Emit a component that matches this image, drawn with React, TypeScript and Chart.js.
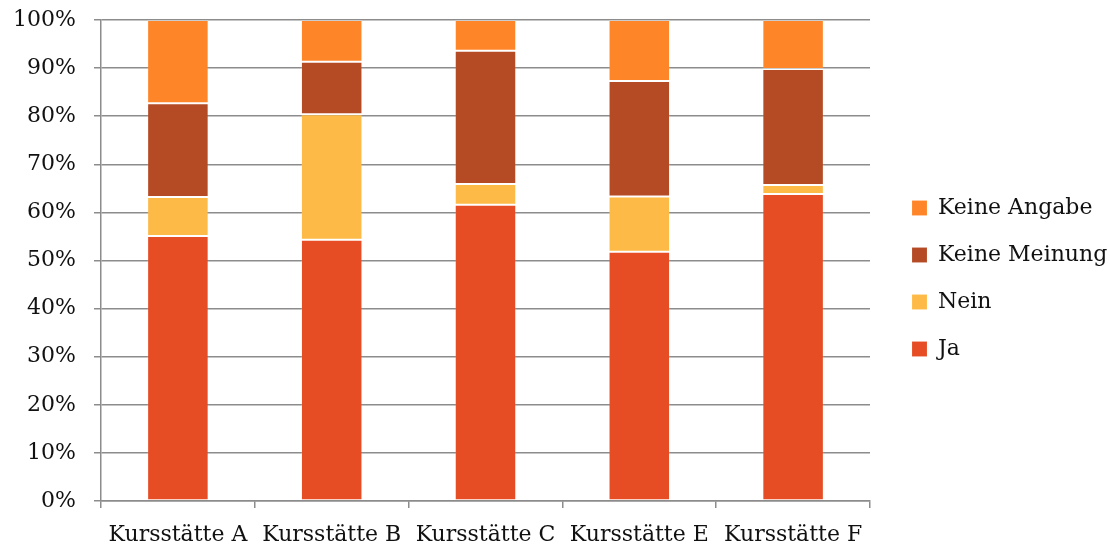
import React, { useEffect, useRef } from "react";
import { Chart, registerables } from "chart.js";

Chart.register(...registerables);

const categories = ["Kursstätte A", "Kursstätte B", "Kursstätte C", "Kursstätte E", "Kursstätte F"];
const ja = [55.1, 54.3, 61.6, 51.8, 63.8];
const nein = [8.1, 26.1, 4.3, 11.5, 1.9];
const keineMeinung = [19.5, 10.9, 27.7, 24.0, 24.1];
const keineAngabe = [17.3, 8.7, 6.4, 12.7, 10.2];
const yTicks = [0, 10, 20, 30, 40, 50, 60, 70, 80, 90, 100];

const FONT = "'DejaVu Serif', 'Liberation Serif', serif";
const GRID = "#8c8c8c";

export default function App() {
  const ref = useRef<HTMLCanvasElement | null>(null);
  useEffect(() => {
    if (!ref.current) return;
    const mk = (label: string, data: number[], color: string) => ({
      label,
      data,
      backgroundColor: color,
      borderColor: "rgba(255,255,255,0.12)",
      borderWidth: 1,
      borderSkipped: false,
      barPercentage: 0.4,
      categoryPercentage: 1,
    });
    const chart = new Chart(ref.current, {
      type: "bar",
      data: {
        labels: categories,
        datasets: [
          mk("Ja", ja, "#E64D24"),
          mk("Nein", nein, "#FEBA47"),
          mk("Keine Meinung", keineMeinung, "#B54B25"),
          mk("Keine Angabe", keineAngabe, "#FE8628"),
        ],
      },
      options: {
        animation: false,
        responsive: true,
        maintainAspectRatio: false,
        layout: { padding: { top: 11, right: 0, bottom: 0, left: 0 } },
        plugins: {
          tooltip: { enabled: false },
          legend: {
            position: "right",
            reverse: true,
            maxWidth: 223,
            labels: {
              boxWidth: 15,
              boxHeight: 15,
              padding: 25,
              color: "#111",
              font: { family: FONT, size: 22 },
            },
          },
        },
        scales: {
          x: {
            stacked: true,
            grid: { display: true, drawOnChartArea: false, drawTicks: true, tickLength: 7, color: GRID, lineWidth: 1.5 },
            border: { display: true, color: GRID, width: 1.5 },
            ticks: { color: "#111", font: { family: FONT, size: 22 }, padding: 14, maxRotation: 0 },
            afterFit: (s: any) => { s.height = 45; },
          },
          y: {
            stacked: true,
            min: 0,
            max: 100,
            afterBuildTicks: (s: any) => { s.ticks = yTicks.map((v) => ({ value: v })); },
            grid: { color: GRID, lineWidth: 1.5, tickLength: 7 },
            border: { display: true, color: GRID, width: 1.5 },
            ticks: { color: "#111", font: { family: FONT, size: 22 }, padding: 18, callback: (v: any) => v + "%" },
            afterFit: (s: any) => { s.width = 101; s.paddingTop = 20; s.paddingBottom = 0; },
          },
          spacer: {
            type: "linear",
            position: "right",
            display: true,
            grid: { display: false },
            border: { display: false },
            ticks: { display: false },
            afterFit: (s: any) => { s.width = 17; s.paddingTop = 0; s.paddingBottom = 0; },
          },
        },
      },
    } as any);
    return () => chart.destroy();
  }, []);
  return (
    <div style={{ position: "fixed", left: 0, top: 0, width: 1110, height: 546 }}>
      <canvas ref={ref} />
    </div>
  );
}
